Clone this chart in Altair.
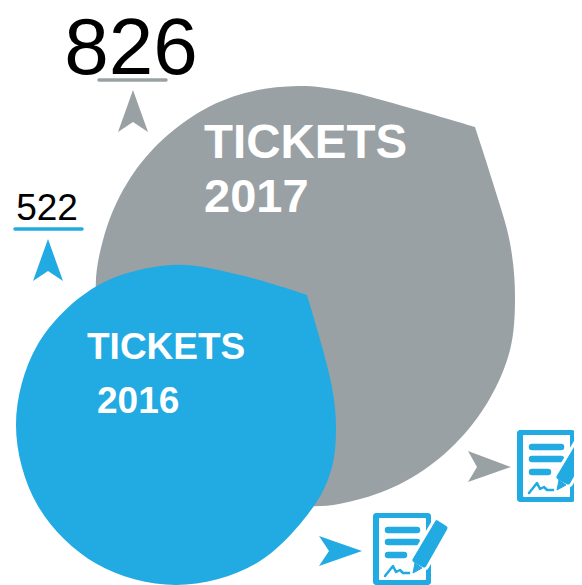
import altair as alt
import pandas as pd

GRAY = "#9aa1a4"
BLUE = "#22aae3"

gray_blob = [(475,127),(493,183),(510,243),(515,297),(510,350),(488.7,400.5),(455,444),(411.5,477.7),(362,498.5),(306,506),(200.5,477.7),(123.3,400.5),
             (96,295),(103,240),(123.3,189.5),(154,148),(199.5,112),(245,93),(298,86),(345,91),(410,108),(475,127)]
blue_blob = [(307,295),(323,350),(333,393),(336,430),(332,467),(314.6,505),(256,563.6),(176,585),(96,563.6),(37.4,505),(16,425),(37.4,345),(96,286.4),
             (172,265),(240,275),(307,295)]
arrow_gray_up = [(133,90),(148,132),(133,122),(118,132),(133,90)]
arrow_blue_up = [(48,239),(63,281),(48,271),(33,281),(48,239)]
arrow_blue_right = [(362,551),(319,566),(329,551),(319,536),(362,551)]
arrow_gray_right = [(511,467),(468,482),(477,467),(468,451),(511,467)]

pencil_body = [(437,523),(445,528),(424,565),(415,560),(437,523)]
pencil_nib = [(415,563),(422,568),(413,573),(415,563)]
signature = [(385,576),(393,566),(396,572),(400,570),(403,573),(410,573)]
bars = [(388,417,530),(388,417,542),(388,404,555)]
icon_offsets = [(0,0),(144,-83)]

X = alt.Scale(domain=[8,574])
Y = alt.Scale(domain=[585,8])


def frame(pts):
    return pd.DataFrame([{"x":p[0],"y":p[1],"o":i} for i,p in enumerate(pts)])


def poly(pts, color, interp="linear", stroke=None, sw=0):
    return alt.Chart(frame(pts)).mark_line(
        fill=color, stroke=stroke or color, strokeWidth=sw, interpolate=interp, clip=False,
        strokeJoin="round", strokeCap="round"
    ).encode(
        x=alt.X("x:Q", scale=X, axis=None),
        y=alt.Y("y:Q", scale=Y, axis=None),
        order="o:Q",
    )


def txt(s, x, y, size, color, bold=False, align="left"):
    return alt.Chart(pd.DataFrame({"x":[x],"y":[y],"t":[s]})).mark_text(
        font="Liberation Sans", fontSize=size, fontWeight="bold" if bold else "normal",
        color=color, align=align, baseline="alphabetic", clip=False
    ).encode(x=alt.X("x:Q", scale=X, axis=None), y=alt.Y("y:Q", scale=Y, axis=None), text="t:N")


def seg(x1, x2, y, color, w):
    return alt.Chart(pd.DataFrame({"x":[x1],"x2":[x2],"y":[y]})).mark_rule(
        color=color, strokeWidth=w, strokeCap="round", clip=False
    ).encode(x=alt.X("x:Q", scale=X, axis=None), x2="x2:Q", y=alt.Y("y:Q", scale=Y, axis=None))


def box(x1, x2, y1, y2, color, r):
    return alt.Chart(pd.DataFrame({"x":[x1],"x2":[x2],"y":[y1],"y2":[y2]})).mark_rect(
        color=color, cornerRadius=r, clip=False
    ).encode(x=alt.X("x:Q", scale=X, axis=None), x2="x2:Q",
             y=alt.Y("y:Q", scale=Y, axis=None), y2="y2:Q")


def shift(pts, d):
    return [(p[0]+d[0], p[1]+d[1]) for p in pts]


layers = [
    poly(gray_blob, GRAY, "catmull-rom"),
    poly(blue_blob, BLUE, "catmull-rom"),
    poly(arrow_gray_up, GRAY),
    poly(arrow_blue_up, BLUE),
    poly(arrow_blue_right, BLUE),
    poly(arrow_gray_right, GRAY),
    seg(99, 166, 80, GRAY, 3.5),
    seg(15, 82, 229, BLUE, 3.5),
    txt("826", 131, 74, 80, "#000000", align="center"),
    txt("522", 47, 220, 37, "#000000", align="center"),
    txt("TICKETS", 204, 158, 47.5, "#ffffff", bold=True),
    txt("2017", 204, 212, 47, "#ffffff", bold=True),
    txt("TICKETS", 87, 359, 37, "#ffffff", bold=True),
    txt("2016", 97, 413, 37, "#ffffff", bold=True),
]

for d in icon_offsets:
    layers += [
        box(373+d[0], 431+d[0], 513+d[1], 585+d[1], BLUE, 3),
        box(379+d[0], 426+d[0], 518+d[1], 580+d[1], "#ffffff", 1),
    ]
    for b in bars:
        layers.append(seg(b[0]+d[0], b[1]+d[0], b[2]+d[1], BLUE, 6.5))
    layers += [
        poly(shift(signature, d), "none", stroke=BLUE, sw=2.5),
        poly(shift(pencil_body, d), "#ffffff", stroke="#ffffff", sw=11),
        poly(shift(pencil_nib, d), "#ffffff", stroke="#ffffff", sw=6),
        poly(shift(pencil_body, d), BLUE, stroke=BLUE, sw=5),
        poly(shift(pencil_nib, d), BLUE, stroke=BLUE, sw=1),
    ]

chart = alt.layer(*layers).properties(
    width=566, height=577, padding=0, autosize=alt.AutoSizeParams(type="none")
).configure_view(stroke=None)

chart.save("out.html", embed_options={"renderer": "svg", "actions": False})
